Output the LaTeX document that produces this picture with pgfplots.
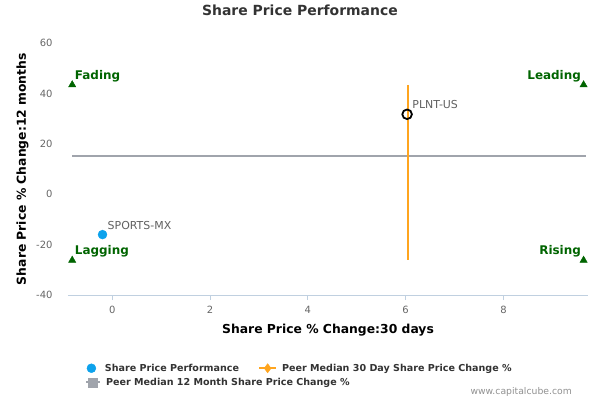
\documentclass[border=0pt]{standalone}
\usepackage{fontspec}
\setmainfont{DejaVu Sans}
\usepackage{pgfplots}
\pgfplotsset{compat=1.18}

\definecolor{titlegray}{HTML}{333333}
\definecolor{tickgray}{HTML}{666666}
\definecolor{labelgray}{HTML}{606060}
\definecolor{wmgray}{HTML}{909090}
\definecolor{axisblue}{HTML}{C0D0E0}
\definecolor{ptblue}{HTML}{0DA2EC}
\definecolor{peerorange}{HTML}{FFA51F}
\definecolor{peergray}{HTML}{A0A4AC}
\definecolor{quadgreen}{HTML}{006400}

\pgfplotsset{
  legendbase/.style={
    draw=none, fill=none, inner sep=0pt,
    font=\bfseries\fontsize{9.6}{11}\selectfont, text=titlegray,
    nodes={inner sep=0pt},
    /tikz/every odd column/.append style={column sep=5bp},
    /tikz/every even column/.append style={column sep=19bp},
  },
  dotlegend/.style={legend image code/.code={\path[draw=none, fill=none] (0bp,0bp) -- (13bp,0bp);
    \draw[##1] plot coordinates {(4.5bp,0bp)};}},
  orangelegend/.style={legend image code/.code={\draw[mark repeat=2, mark phase=2, ##1]
    plot coordinates {(0bp,0bp) (8.5bp,0bp) (17bp,0bp)};}},
  graylegend/.style={legend image code/.code={\draw[mark repeat=2, mark phase=2, ##1]
    plot coordinates {(0bp,0bp) (7bp,0bp) (14bp,0bp)};}},
}

\begin{document}
\begin{tikzpicture}
\path[use as bounding box] (-68bp,-105bp) rectangle (532bp,295bp);
\begin{axis}[
  at={(0bp,0bp)}, anchor=south west,
  scale only axis, width=520bp, height=251.7bp,
  xmin=-0.906, xmax=9.73, ymin=-40, ymax=60,
  xtick={0,2,4,6,8}, ytick={-40,-20,0,20,40,60},
  axis x line=bottom, axis y line=left,
  x axis line style={draw=axisblue, line width=0.8bp, -},
  y axis line style={draw=none},
  xtick style={draw=axisblue, line width=0.8bp},
  ytick style={draw=none},
  tick align=outside, major tick length=5bp,
  ticklabel style={font=\fontsize{10}{12}\selectfont, text=tickgray},
  xticklabel style={yshift=-3bp},
  yticklabel style={xshift=-7bp},
  /pgf/number format/assume math mode=true,
  xlabel={Share Price \% Change:30 days},
  ylabel={Share Price \% Change:12 months},
  xlabel style={font=\bfseries\fontsize{12.4}{14}\selectfont,
    at={(axis description cs:0.5,-0.152)}, anchor=base},
  ylabel style={font=\bfseries\fontsize{12.4}{14}\selectfont,
    at={(axis description cs:-0.0808,0.5)}, anchor=base},
  title={Share Price Performance},
  title style={font=\bfseries\fontsize{14}{17}\selectfont, text=titlegray,
    at={(axis description cs:0.446,1.086)}, anchor=base},
  clip=false,
  legend columns=2,
  legend style={legendbase, at={(axis description cs:0.036,-0.291)}, anchor=west},
]
% peer medians
\addplot[draw=peergray, line width=2.2bp, forget plot] coordinates {(-0.82,15.1) (9.68,15.1)};
\addplot[draw=peerorange, line width=2bp, forget plot] coordinates {(6.04,43.5) (6.04,-26.2)};

% quadrant markers
\addplot[only marks, mark=triangle*, mark size=4.2bp, quadgreen, forget plot,
  nodes near coords, point meta=explicit symbolic,
  every node near coord/.append style={anchor=base west, inner sep=0pt,
    xshift=2.5bp, yshift=5.6bp, text=quadgreen,
    font=\bfseries\fontsize{12}{14}\selectfont}]
  coordinates {(-0.82,43.5) [Fading] (-0.82,-26.2) [Lagging]};
\addplot[only marks, mark=triangle*, mark size=4.2bp, quadgreen, forget plot,
  nodes near coords, point meta=explicit symbolic,
  every node near coord/.append style={anchor=base east, inner sep=0pt,
    xshift=-2.5bp, yshift=5.6bp, text=quadgreen,
    font=\bfseries\fontsize{12}{14}\selectfont}]
  coordinates {(9.64,43.5) [Leading] (9.64,-26.2) [Rising]};

% companies
\addplot[only marks, mark=*, mark size=4.5bp, ptblue, forget plot,
  nodes near coords, point meta=explicit symbolic,
  every node near coord/.append style={anchor=base west, inner sep=0pt,
    xshift=5bp, yshift=4.7bp, text=labelgray,
    font=\fontsize{11}{13}\selectfont}]
  coordinates {(-0.2,-16.0) [SPORTS-MX]};
\addplot[only marks, mark=o, mark size=4.8bp, black, line width=1.8bp, forget plot,
  nodes near coords, point meta=explicit symbolic,
  every node near coord/.append style={anchor=base west, inner sep=0pt,
    xshift=4.4bp, yshift=5.3bp, text=labelgray,
    font=\fontsize{11}{13}\selectfont}]
  coordinates {(6.03,31.8) [PLNT-US]};

\addlegendimage{only marks, mark=*, mark size=4.5bp, ptblue, dotlegend}
\addlegendentry{Share Price Performance}
\addlegendimage{peerorange, line width=2bp, mark=diamond*, mark size=4.5bp,
  mark options={line width=0.5bp}, orangelegend}
\addlegendentry{Peer Median 30 Day Share Price Change \%}
\end{axis}

\begin{axis}[
  at={(0bp,0bp)}, anchor=south west,
  scale only axis, width=520bp, height=251.7bp,
  hide axis, xmin=0, xmax=1, ymin=0, ymax=1,
  legend style={legendbase, at={(axis description cs:0.0327,-0.3468)}, anchor=west},
]
\addlegendimage{peergray, line width=2bp, mark=square*, mark size=4.5bp,
  mark options={line width=0.5bp}, graylegend}
\addlegendentry{Peer Median 12 Month Share Price Change \%}
\end{axis}

\node[anchor=east, inner sep=0pt, text=wmgray, font=\fontsize{9.3}{11}\selectfont]
  at (504bp,-97bp) {www.capitalcube.com};
\end{tikzpicture}
\end{document}
